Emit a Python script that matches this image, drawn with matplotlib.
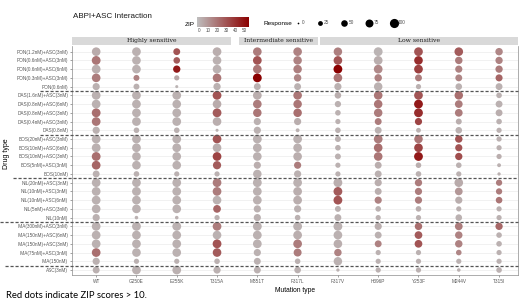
import numpy as np
import matplotlib
matplotlib.use("Agg")
import matplotlib.pyplot as plt
from matplotlib.colors import LinearSegmentedColormap
from matplotlib.patches import Rectangle

plt.rcParams['font.family'] = ['Liberation Sans', 'DejaVu Sans']

# rows top -> bottom
drugs = [
    "PON(1.2nM)+ASC(3nM)", "PON(0.6nM)+ASC(3nM)", "PON(0.6nM)+ASC(6nM)", "PON(0.3nM)+ASC(3nM)", "PON(0.6nM)",
    "DAS(1.6nM)+ASC(3nM)", "DAS(0.8nM)+ASC(6nM)", "DAS(0.8nM)+ASC(3nM)", "DAS(0.4nM)+ASC(3nM)", "DAS(0.8nM)",
    "BOS(20nM)+ASC(3nM)", "BOS(10nM)+ASC(6nM)", "BOS(10nM)+ASC(3nM)", "BOS(5nM)+ASC(3nM)", "BOS(10nM)",
    "NIL(20nM)+ASC(3nM)", "NIL(10nM)+ASC(3nM)", "NIL(10nM)+ASC(6nM)", "NIL(5nM)+ASC(3nM)", "NIL(10nM)",
    "IMA(300nM)+ASC(3nM)", "IMA(150nM)+ASC(6nM)", "IMA(150nM)+ASC(3nM)", "IMA(75nM)+ASC(3nM)", "IMA(150nM)",
    "ASC(3nM)",
]
mutations = ["WT", "G250E", "E255K", "T315A", "M351T", "F317L",
             "F317V", "H396P", "Y253F", "M244V", "T315I"]
groups = ["Highly sensitive", "Intermediate sensitive", "Low sensitive"]
group_sizes = [4, 2, 5]

# % response (dot size), one row per drug, columns in mutation order
response = [
    [88, 90, 55, 90, 88, 88, 85, 92, 90, 88, 65],
    [92, 88, 50, 88, 90, 85, 88, 90, 88, 65, 62],
    [90, 88, 62, 88, 88, 85, 92, 90, 90, 60, 62],
    [88, 40, 30, 88, 92, 65, 88, 65, 55, 55, 58],
    [60, 40, 8, 62, 55, 55, 60, 85, 30, 50, 55],
    [90, 90, 90, 92, 90, 88, 50, 88, 90, 85, 35],
    [90, 90, 88, 88, 88, 85, 45, 85, 92, 70, 55],
    [92, 90, 90, 92, 85, 85, 35, 85, 92, 70, 55],
    [90, 90, 90, 88, 60, 60, 30, 55, 60, 40, 35],
    [60, 35, 35, 8, 60, 15, 35, 55, 25, 50, 30],
    [90, 90, 90, 90, 92, 90, 40, 90, 85, 65, 30],
    [90, 90, 90, 88, 90, 88, 35, 88, 88, 60, 30],
    [92, 88, 88, 90, 88, 88, 40, 88, 92, 62, 30],
    [90, 88, 88, 80, 60, 60, 30, 55, 35, 35, 15],
    [55, 35, 30, 30, 85, 60, 30, 55, 35, 30, 10],
    [90, 90, 90, 90, 92, 90, 92, 60, 62, 88, 45],
    [90, 92, 90, 90, 90, 90, 92, 55, 60, 70, 45],
    [90, 90, 90, 88, 90, 90, 92, 60, 60, 60, 50],
    [88, 88, 88, 70, 60, 60, 40, 35, 35, 30, 30],
    [60, 12, 12, 30, 60, 35, 55, 30, 30, 50, 30],
    [90, 92, 92, 90, 92, 92, 92, 60, 65, 70, 62],
    [90, 90, 90, 88, 90, 90, 90, 55, 70, 65, 35],
    [90, 90, 90, 92, 90, 90, 88, 55, 70, 65, 35],
    [90, 88, 88, 88, 60, 75, 65, 30, 30, 35, 30],
    [60, 30, 30, 35, 55, 35, 85, 30, 30, 30, 30],
    [55, 90, 90, 60, 55, 50, 10, 30, 30, 12, 35],
]

# ZIP synergy score (dot colour)
zip_score = [
    [4, 2, 30, 3, 18, 16, 17, 1, 30, 28, 15],
    [20, 2, 28, 2, 30, 16, 30, 3, 42, 18, 16],
    [3, 2, 48, 2, 20, 17, 55, 14, 36, 16, 18],
    [18, 16, 5, 20, 55, 15, 20, 16, 18, 15, 25],
    [2, 2, 1, 2, 2, 2, 2, 2, 2, 2, 2],
    [2, 2, 2, 30, 3, 20, 3, 20, 30, 22, 2],
    [2, 2, 2, 4, 18, 20, 2, 20, 48, 18, 2],
    [22, 2, 2, 28, 20, 22, 2, 18, 42, 18, 3],
    [20, 2, 2, 3, 2, 3, 2, 18, 35, 3, 2],
    [2, 2, 2, 2, 2, 2, 2, 2, 2, 2, 2],
    [2, 2, 2, 30, 2, 2, 2, 18, 20, 30, 2],
    [2, 2, 2, 3, 2, 2, 2, 22, 35, 30, 2],
    [22, 2, 2, 35, 2, 3, 2, 20, 48, 32, 3],
    [25, 2, 2, 28, 3, 18, 2, 3, 3, 2, 2],
    [2, 2, 2, 2, 2, 2, 2, 2, 2, 2, 2],
    [2, 2, 2, 18, 2, 2, 3, 3, 18, 4, 18],
    [2, 2, 2, 18, 2, 3, 28, 3, 18, 10, 18],
    [2, 2, 2, 2, 2, 3, 30, 16, 18, 3, 20],
    [2, 2, 2, 25, 2, 2, 2, 2, 3, 2, 2],
    [2, 2, 2, 2, 2, 2, 2, 2, 2, 2, 2],
    [2, 2, 2, 18, 2, 2, 2, 3, 22, 18, 24],
    [2, 2, 2, 2, 2, 3, 2, 2, 28, 16, 2],
    [2, 2, 2, 30, 2, 18, 3, 16, 30, 16, 2],
    [22, 2, 2, 28, 2, 18, 16, 2, 2, 15, 2],
    [2, 2, 2, 2, 2, 2, 2, 2, 2, 2, 2],
    [2, 2, 2, 2, 2, 2, 2, 2, 2, 2, 2],
]

legend_sizes = [0, 25, 50, 75, 100]
zip_ticks = [0, 10, 20, 30, 40, 50]
ZIP_MIN, ZIP_MAX = -2, 55.5

# single-agent rows close each drug block
separators = [4.5, 9.5, 14.5, 19.5, 24.5]
sep_start = [-0.072, -0.072, -0.132, -0.161, -0.15]

cmap = LinearSegmentedColormap.from_list("zip", ["#bebebe", "#8b0000"])


def dot_area(r):
    return 1.5 + 0.42 * np.asarray(r, dtype=float)


resp = np.array(response)
zips = np.array(zip_score)
xx, yy = np.meshgrid(np.arange(len(mutations)), np.arange(len(drugs)))

fig = plt.figure(figsize=(5.2, 3.08), dpi=100)
ax = fig.add_axes([72 / 520, 33 / 308, 446 / 520, 229 / 308])

sc = ax.scatter(xx.ravel(), yy.ravel(), s=dot_area(resp.ravel()), c=zips.ravel(),
                cmap=cmap, vmin=ZIP_MIN, vmax=ZIP_MAX, linewidths=0, zorder=3)

ax.set_xlim(-0.6, len(mutations) - 0.53)
ax.set_ylim(len(drugs) - 0.43, -0.65)
ax.set_xticks(range(len(mutations)))
ax.set_xticklabels(mutations)
ax.set_yticks(range(len(drugs)))
ax.set_yticklabels(drugs)
ax.tick_params(labelsize=3.4, colors="#595959", length=1.5, width=0.4, pad=1.2)
ax.grid(axis="y", color="#ebebeb", lw=0.5, zorder=0)
for side in ["left", "bottom", "right"]:
    ax.spines[side].set_color("#8c8c8c")
    ax.spines[side].set_linewidth(0.5)
ax.spines["top"].set_visible(False)

ax.set_xlabel("Mutation type", fontsize=4.8, labelpad=2)
fig.text(6 / 520, 0.5, "Drug type", rotation=90, ha="center", va="center", fontsize=5)

for y, x0 in zip(separators, sep_start):
    ax.plot([x0, 1], [y, y], transform=ax.get_yaxis_transform(), clip_on=False,
            color="#555555", lw=0.9, ls=(0, (2.5, 1.5)), zorder=4)

# facet strips
edges = np.cumsum([0] + group_sizes) - 0.5
edges[0] = -0.6
edges[-1] = len(mutations) - 0.53
trans = ax.get_xaxis_transform()
for i, name in enumerate(groups):
    left = edges[i] + (0.05 if i > 0 else 0)
    right = edges[i + 1] - (0.15 if i == 0 else 0)
    ax.add_patch(Rectangle((left, 1.004), right - left, 0.036, transform=trans,
                           facecolor="#d9d9d9", edgecolor="none", clip_on=False))
    ax.text((left + right) / 2, 1.022, name, transform=trans, ha="center", va="center",
            fontsize=4.4, family="DejaVu Serif", color="#1a1a1a")

# ZIP colour bar
cax = fig.add_axes([197 / 520, 1 - 27 / 308, 52 / 520, 10 / 308])
cb = fig.colorbar(sc, cax=cax, orientation="horizontal")
cb.set_ticks(zip_ticks)
cb.outline.set_visible(False)
cax.tick_params(labelsize=3.3, colors="#4d4d4d", length=0, pad=1)
cax.text(-0.05, 0.0, "ZIP", transform=cax.transAxes, ha="right", va="bottom", fontsize=4.6)

# Response size legend
handles = [ax.scatter([], [], s=dot_area(v), c="black", linewidths=0) for v in legend_sizes]
leg = fig.legend(handles, [str(v) for v in legend_sizes], ncol=5, loc="center left",
                 bbox_to_anchor=(294 / 520, 1 - 23 / 308), frameon=False, fontsize=3.4,
                 handletextpad=0.1, columnspacing=2.4, handlelength=1.6, borderpad=0,
                 borderaxespad=0, labelcolor="#4d4d4d")
fig.text(263 / 520, 1 - 23 / 308, "Response", ha="left", va="center", fontsize=4.6)

fig.text(73 / 520, 1 - 16 / 308, "ABPI+ASC Interaction", ha="left", va="center",
         fontsize=5.8, color="#1a1a1a")
fig.text(6 / 520, 1 - 296 / 308, "Red dots indicate ZIP scores > 10.", ha="left", va="center",
         fontsize=6.8, family=["Lato", "DejaVu Sans"])

fig.savefig("out.png", dpi=100)
